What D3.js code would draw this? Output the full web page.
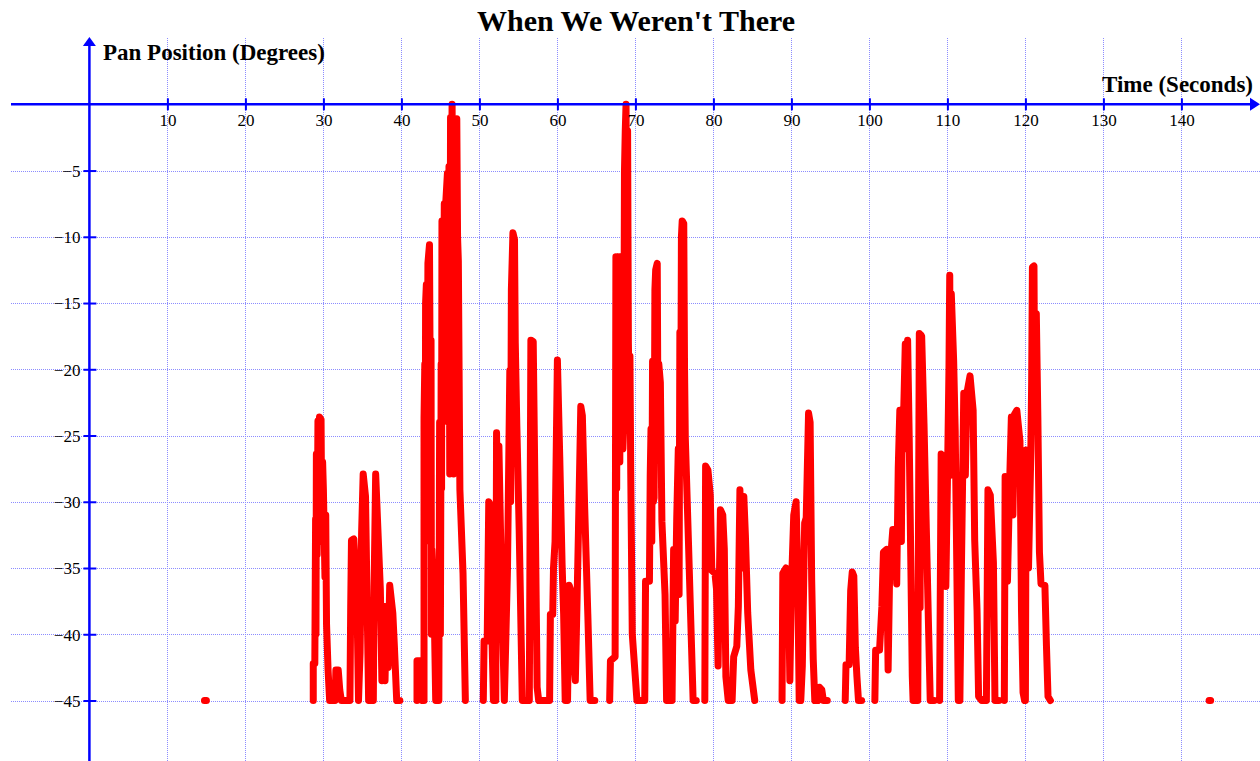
<!DOCTYPE html>
<html>
<head>
<meta charset="utf-8">
<script src="https://cdn.jsdelivr.net/npm/d3@7"></script>
<style>
  body { margin: 0; background: #fff; }
  svg { display: block; }
</style>
</head>
<body>
<svg id="chart" width="1260" height="761"></svg>
<script>
const chartTitle = "When We Weren't There";
const yLabel = "Pan Position (Degrees)";
const xLabel = "Time (Seconds)";

const xTicks = [10, 20, 30, 40, 50, 60, 70, 80, 90, 100, 110, 120, 130, 140];
const yTicks = [-5, -10, -15, -20, -25, -30, -35, -40, -45];

// time (s) and pan (deg) readings, one row per burst; null = no data (gap)
const timeSec = [
  14.75, 15.0, null,
  28.7, 28.7, 28.9, 29.0, 29.05, 29.1, 29.2, 29.3, 29.4, 29.5, 29.7, 29.8, 29.9, 30.0, 30.2, 30.3, 30.4, 30.6, 30.8, 31.5, 31.6, 31.9, 32.1, 32.3, 33.4, 33.5, 33.6, 33.9, 34.3, 34.5, 34.7, 34.9, 35.1, 35.4, 35.6, 35.8, 36.4, 36.5, 36.7, 37.0, 37.3, 37.5, 37.7, 37.9, 38.1, 38.3, 38.5, 38.9, 39.1, 39.4, 39.8, null,
  42.0, 42.0, 42.5, 42.7, 42.9, 42.9, 43.0, 43.05, 43.1, 43.2, 43.3, 43.4, 43.6, 43.7, 43.8, 43.85, 43.9, 44.2, 44.4, 44.8, 44.9, 45.0, 45.1, 45.15, 45.2, 45.35, 45.5, 45.6, 45.7, 45.9, 46.0, 46.1, 46.2, 46.3, 46.4, 46.5, 46.6, 46.7, 46.8, 46.9, 47.1, 47.2, 47.3, 47.5, 47.9, 48.2, null,
  50.5, 50.6, 51.0, 51.2, 51.4, 51.6, 51.8, 52.1, 52.2, 52.35, 52.5, 52.8, 53.2, 53.6, 53.9, 54.0, 54.1, 54.3, 54.5, 54.6, 54.8, 55.1, 55.5, 56.4, 56.6, 56.9, 57.2, 57.4, 57.6, 59.0, 59.1, 59.4, 59.5, 59.7, 60.0, 60.3, 60.6, 60.8, 61.0, 61.3, 61.5, 61.8, 62.0, 62.3, 62.5, 62.7, 63.0, 63.2, 63.5, 63.9, 64.2, 64.8, null,
  66.7, 66.8, 67.4, 67.5, 67.6, 67.7, 67.8, 67.9, 68.0, 68.1, 68.2, 68.3, 68.4, 68.5, 68.6, 68.7, 68.8, 68.9, 69.0, 69.1, 69.2, 69.3, 69.4, 69.6, 70.2, 71.2, 71.3, 71.8, 71.9, 72.0, 72.1, 72.2, 72.3, 72.4, 72.5, 72.6, 72.8, 72.9, 73.0, 73.2, 73.4, 73.8, 74.0, 74.7, 74.9, 75.1, 75.3, 75.5, 75.6, 75.7, 75.8, 75.9, 76.0, 76.2, 76.3, 76.4, 76.8, 77.2, 77.4, 77.8, null,
  78.9, 79.0, 79.3, 79.6, 79.8, 80.2, 80.4, 80.6, 80.9, 81.2, 81.4, 81.6, 81.9, 82.4, 82.6, 83.0, 83.2, 83.4, 83.6, 83.9, 84.1, 84.4, 84.8, 85.3, null,
  88.8, 88.9, 89.3, 89.6, 89.8, 90.0, 90.3, 90.6, 90.8, 91.0, 91.2, 91.4, 91.7, 91.9, 92.2, 92.4, 92.6, 92.8, 93.0, 93.4, 93.6, 93.9, 94.1, 94.6, null,
  96.9, 97.0, 97.4, 97.6, 97.8, 98.0, 98.2, 98.4, 98.6, 99.0, null,
  100.7, 100.8, 101.3, 101.6, 101.8, 102.2, 102.4, 102.6, 103.0, 103.3, 103.5, 103.7, 103.9, 104.1, 104.2, 104.4, 104.6, 104.7, 104.9, 105.1, 105.3, 105.5, 105.6, 106.2, 106.4, 106.5, 106.6, 106.7, 107.0, 107.3, 107.6, 107.8, 108.3, null,
  109.0, 109.2, 109.6, 109.8, 110.0, 110.2, 110.3, 110.4, 110.5, 110.8, 111.0, 111.2, 111.4, 111.6, 111.8, 112.1, 112.3, 112.5, 112.9, 113.3, 113.5, 113.8, 114.0, 114.4, 115.0, 115.2, 115.5, 115.9, 116.1, 116.6, null,
  117.3, 117.4, 117.7, 118.0, 118.2, 118.4, 118.6, 118.9, 119.3, 119.4, 119.5, 119.7, 119.9, 120.0, 120.1, 120.4, 120.7, 120.8, 120.9, 121.1, 121.2, 121.4, 121.6, 121.8, 122.0, 122.5, 122.7, 122.9, 123.2, null,
  143.55, 143.75
];
const panDeg = [
  -45, -45, null,
  -45, -42.2, -42.2, -31.3, -40, -26.4, -34, -23.9, -31, -23.6, -23.8, -33, -27, -29.1, -35.7, -31, -39.2, -42.7, -45, -45, -42.7, -42.7, -44.2, -45, -45, -37.9, -32.9, -32.8, -37.4, -45, -41.4, -32.3, -27.9, -29.6, -37.6, -45, -45, -36.4, -27.9, -32.3, -36.6, -43.5, -37.9, -43.5, -37.9, -42.5, -36.3, -38.4, -40.9, -45, -45, null,
  -45, -42, -42, -45, -45, -23.7, -19.6, -33, -15, -13.6, -24, -12, -10.6, -22, -17.8, -40, -33.6, -38, -45, -45, -24, -40, -19.6, -29, -8.8, -23, -7.5, -21, -7.3, -5.2, -24, -4.7, -27.9, -1, -8, 0, -12, -27.9, -3, -15, -1.1, -10, -11.8, -29.1, -35.4, -45, null,
  -45, -40.5, -40.5, -30, -30.2, -40, -45, -45, -24.8, -33, -25.8, -35.1, -45, -35.1, -20.1, -30, -14, -9.7, -10.2, -18, -24.3, -32.1, -45, -45, -17.8, -17.9, -33, -44, -45, -45, -38.5, -38.5, -35, -33, -19.3, -26.6, -34.7, -38.5, -45, -45, -36.3, -36.8, -41, -43.5, -38, -32.2, -22.8, -23.5, -30.5, -38.5, -45, -45, null,
  -45, -42, -41.7, -11.5, -29, -11.6, -24, -11.5, -27, -11.5, -22, -15, -26, -24.3, -5, -2, 0, -14, -2, -18, -22, -19, -27.6, -40, -45, -45, -36, -36, -28, -24.5, -33, -19.4, -30, -29.7, -14, -12.5, -12, -25, -19.6, -21, -31.5, -37, -45, -45, -33.6, -39, -31.2, -26, -37, -17.2, -27, -10, -8.8, -9, -20, -25.2, -33, -41, -45, -45, null,
  -45, -27.3, -27.6, -29.5, -35.2, -35.4, -36.6, -42.4, -30.6, -31, -33.6, -43.2, -45, -45, -41.7, -40.9, -37.9, -29.1, -35, -29.6, -32.5, -38.4, -42.7, -45, null,
  -45, -35.4, -35, -35.3, -43.5, -36.5, -31, -30, -35, -45, -45, -42.4, -31.6, -31.2, -23.3, -24, -35.9, -41.9, -45, -45, -44, -44.2, -45, -45, null,
  -45, -42.3, -42.3, -36.7, -35.3, -35.6, -41, -43.2, -45, -45, null,
  -45, -41.2, -41.2, -37.9, -33.8, -33.6, -42.7, -35.2, -32.1, -32.1, -36.2, -27.4, -23.1, -33, -23.2, -23.1, -18.1, -26, -17.8, -25, -34.1, -43.2, -45, -45, -17.3, -38, -17.4, -17.5, -24.1, -32.1, -39.9, -45, -45, null,
  -45, -26.4, -26.6, -36.4, -28.6, -20, -12.9, -28, -14.3, -19.3, -24.6, -34.6, -45, -45, -34.9, -21.8, -28, -21.8, -20.5, -23.1, -32.9, -38.2, -44.7, -45, -45, -29.1, -29.5, -34.6, -45, -45, null,
  -45, -28.1, -36, -28.1, -23.6, -31, -23.4, -23.1, -25.4, -31.6, -38.2, -44.4, -45, -45, -26.1, -35, -26.1, -21, -12.3, -12.2, -24, -15.8, -23.8, -33.8, -36.2, -36.3, -40.9, -44.7, -45, null,
  -45, -45
];

const width = 1260, height = 761;
const svg = d3.select('#chart');

const x = d3.scaleLinear().domain([0, 140]).range([89.4, 1181.4]);
const y = d3.scaleLinear().domain([0, -45]).range([104.3, 700.5]);

const gridColor = '#8c8cff';
const axisColor = '#0000ff';
const serif = '"Liberation Serif", "Times New Roman", serif';

svg.append('rect').attr('width', width).attr('height', height).attr('fill', '#fff');

// grid
const grid = svg.append('g').attr('stroke', gridColor).attr('stroke-width', 1)
  .attr('stroke-dasharray', '1,1').attr('shape-rendering', 'crispEdges');
grid.selectAll('line.v').data(xTicks).enter().append('line')
  .attr('class', 'v')
  .attr('x1', d => Math.round(x(d)) + 0.5).attr('x2', d => Math.round(x(d)) + 0.5)
  .attr('y1', 38).attr('y2', height);
grid.selectAll('line.h').data(yTicks).enter().append('line')
  .attr('class', 'h')
  .attr('x1', 11).attr('x2', width)
  .attr('y1', d => Math.round(y(d)) + 0.5).attr('y2', d => Math.round(y(d)) + 0.5);

// data
const pts = timeSec.map((t, i) => [t, panDeg[i]]);
const line = d3.line()
  .defined(d => d[0] != null && d[1] != null)
  .x(d => x(d[0]))
  .y(d => y(d[1]));

svg.append('path')
  .datum(pts)
  .attr('d', line)
  .attr('fill', 'none')
  .attr('stroke', '#ff0000')
  .attr('stroke-width', 7)
  .attr('stroke-linejoin', 'round')
  .attr('stroke-linecap', 'round');

// axes
const xAxis = svg.append('g')
  .attr('transform', 'translate(0,' + y(0) + ')')
  .call(d3.axisBottom(x).tickValues(xTicks).tickSize(6));
xAxis.select('.domain').remove();
xAxis.selectAll('.tick line').attr('y1', -6).attr('y2', 6)
  .attr('stroke', axisColor).attr('stroke-width', 2);
xAxis.selectAll('.tick text').attr('y', 22).attr('dy', 0)
  .attr('fill', '#000').style('font-family', serif).style('font-size', '17px');

const yAxis = svg.append('g')
  .attr('transform', 'translate(' + x(0) + ',0)')
  .call(d3.axisLeft(y).tickValues(yTicks).tickSize(6));
yAxis.select('.domain').remove();
yAxis.selectAll('.tick line').attr('x1', 7).attr('x2', -6)
  .attr('stroke', axisColor).attr('stroke-width', 2);
yAxis.selectAll('.tick text').attr('x', -9).attr('dy', '0.35em')
  .attr('fill', '#000').style('font-family', serif).style('font-size', '17px');

// axis lines with arrow heads
const x0 = x(0), y0 = y(0);
svg.append('line').attr('x1', 11).attr('x2', 1252).attr('y1', y0).attr('y2', y0)
  .attr('stroke', axisColor).attr('stroke-width', 2.5);
svg.append('path')
  .attr('d', `M1260,${y0} L1250,${y0 - 6.5} L1250,${y0 + 6.5} Z`)
  .attr('fill', axisColor);
svg.append('line').attr('x1', x0).attr('x2', x0).attr('y1', 44).attr('y2', height)
  .attr('stroke', axisColor).attr('stroke-width', 2.5);
svg.append('path')
  .attr('d', `M${x0},37 L${x0 - 6.5},46 L${x0 + 6.5},46 Z`)
  .attr('fill', axisColor);

// labels
svg.append('text').attr('x', 636).attr('y', 31).attr('text-anchor', 'middle')
  .style('font-family', serif).style('font-weight', 'bold').style('font-size', '30px')
  .text(chartTitle);
svg.append('text').attr('x', 103).attr('y', 60)
  .style('font-family', serif).style('font-weight', 'bold').style('font-size', '23px')
  .text(yLabel);
svg.append('text').attr('x', 1253).attr('y', 92).attr('text-anchor', 'end')
  .style('font-family', serif).style('font-weight', 'bold').style('font-size', '23px')
  .text(xLabel);
</script>
</body>
</html>
